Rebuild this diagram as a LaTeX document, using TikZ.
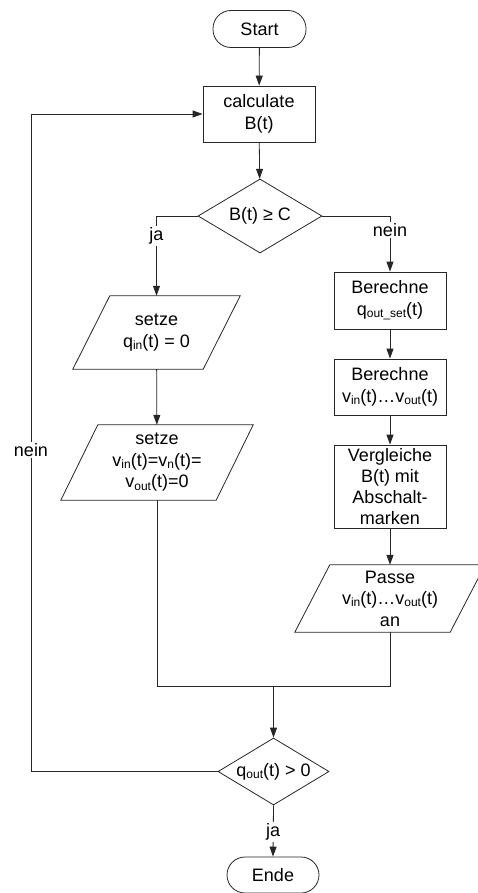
\documentclass[tikz,border=0pt]{standalone}
\usepackage{fontspec}
\setmainfont{Liberation Sans}
\usetikzlibrary{shapes.geometric, arrows.meta, calc}

% lowered, smaller index text (q_in, v_out, ...)
\newcommand\lowsub[1]{\raisebox{-2.2pt}{\fontsize{12}{12}\selectfont #1}}
% outline of an input/output parallelogram around a node; #2 = half the slant
\newcommand\slantbox[2]{%
  \draw[wire] ($(#1.south west)+(-#2,0)$) -- ($(#1.north west)+(#2,0)$)
    -- ($(#1.north east)+(#2,0)$) -- ($(#1.south east)+(-#2,0)$) -- cycle;}

\begin{document}
\begin{tikzpicture}[x=1pt, y=-1pt,
  every node/.style={font=\fontsize{18}{21.5}\selectfont, align=center},
  wire/.style={line width=0.8pt, draw=black!85},
  arr/.style={wire, -{Triangle[length=10pt,width=7pt]}},
  term/.style={wire, rectangle, rounded corners=18pt, minimum width=93pt,
               minimum height=37pt, inner sep=0pt},
  proc/.style={wire, rectangle, minimum width=112pt, inner sep=0pt},
  dec/.style={wire, diamond, aspect=2, inner sep=0pt},
  io/.style={rectangle, inner sep=0pt},
  lbl/.style={fill=white, inner sep=1.5pt},
]
\useasboundingbox (0,0) rectangle (478,893);

% main column
\node[term] (start) at (259.5,29) {Start};
\node[proc, minimum height=56pt] (calc) at (259,114) {calculate\\B(t)};
\node[dec, minimum width=124pt, minimum height=74pt] (d1) at (260,216) {B(t) ≥ C};

% "ja" branch
\node[io, minimum width=130pt, minimum height=73pt] (p1) at (156.5,332.5)
  {setze\\q\lowsub{in}(t) = 0};
\node[io, minimum width=155pt, minimum height=75pt] (p2) at (157,462.5)
  {setze\\v\lowsub{in}(t)=v\lowsub{n}(t)=\\v\lowsub{out}(t)=0};
\slantbox{p1}{18.5}
\slantbox{p2}{18.5}

% "nein" branch
\node[proc, minimum height=57pt] (b1) at (390,300.5) {Berechne\\q\lowsub{out\_set}(t)};
\node[proc, minimum height=56pt] (b2) at (390,387) {Berechne\\v\lowsub{in}(t)…v\lowsub{out}(t)};
\node[proc, minimum height=83pt, font=\fontsize{18}{20.8}\selectfont] (b3) at (390,486.5)
  {Vergleiche\\B(t) mit\\Abschalt-\\marken};
\node[io, minimum width=155pt, minimum height=67pt] (pass) at (390,598.5)
  {Passe\\v\lowsub{in}(t)…v\lowsub{out}(t)\\an};
\slantbox{pass}{17.5}

% merge, loop test and end
\coordinate (m) at (273.5,686);
\node[dec, minimum width=111pt, minimum height=67pt] (d2) at (273.5,771.5) {q\lowsub{out}(t) > 0};
\node[term, minimum width=92pt, minimum height=36pt] (ende) at (273,875) {Ende};
\coordinate (lp) at (31,114);

% connectors
\draw[arr] (start) -- (calc);
\draw[arr] (calc) -- (d1);
\draw[arr] (d1.west) -| (p1.north) node[lbl, pos=0.625] {ja};
\draw[arr] (d1.east) -| (b1.north) node[lbl, pos=0.625] {nein};
\draw[arr] (p1) -- (p2);
\draw[arr] (b1) -- (b2);
\draw[arr] (b2) -- (b3);
\draw[arr] (b3) -- (pass);
\draw[wire] (p2.south) |- (m);
\draw[wire] (pass.south) |- (m);
\draw[arr] (m) -- (d2.north);
\draw[arr] (d2.west) -| (lp) node[lbl, pos=0.7445] {nein} -- (calc.west);
\draw[arr] (d2.south) -- (ende.north) node[lbl, pos=0.52] {ja};
\end{tikzpicture}
\end{document}
